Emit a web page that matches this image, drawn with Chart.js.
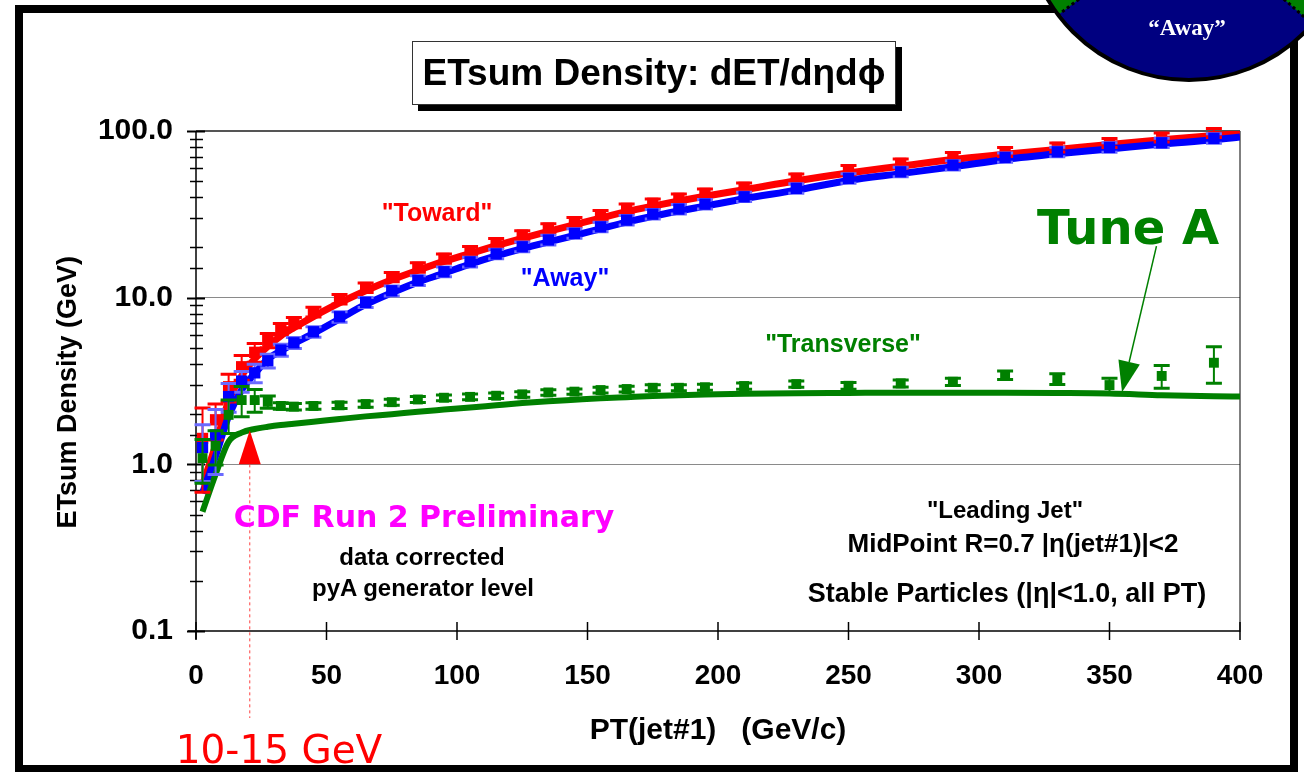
<!DOCTYPE html>
<html><head><meta charset="utf-8">
<script src="https://cdn.jsdelivr.net/npm/chart.js@4/dist/chart.umd.min.js"></script>
<style>
html,body{margin:0;padding:0;background:#fff;}
#wrap{position:relative;width:1304px;height:772px;overflow:hidden;background:#fff;}
canvas{position:absolute;left:0;top:0;}
.t{position:absolute;white-space:nowrap;transform:translate(-50%,-50%);line-height:1;font-family:"Liberation Sans",Arial,sans-serif;font-weight:bold;}
.v{font-family:"DejaVu Sans",Verdana,sans-serif;}
#tbox{position:absolute;left:412px;top:41px;width:484px;height:64px;border:1.5px solid #333;background:#fff;box-shadow:6px 6px 0 #000;box-sizing:border-box;display:flex;align-items:center;justify-content:center;font-family:"Liberation Sans",Arial,sans-serif;font-weight:bold;font-size:37px;color:#000;white-space:nowrap;}
</style></head><body>
<div id="wrap">
<canvas id="c" width="1304" height="772"></canvas>
<div id="tbox">ETsum Density: dET/dηdϕ</div>
<div class="t" style="left:437px;top:212px;font-size:25px;color:#ff0000;">"Toward"</div>
<div class="t" style="left:565px;top:277px;font-size:25px;color:#0000ff;">"Away"</div>
<div class="t" style="left:843px;top:343px;font-size:25px;color:#008000;">"Transverse"</div>
<div class="t v" style="left:1128px;top:227px;font-size:48px;color:#008000;">Tune A</div>
<div class="t v" style="left:424px;top:517px;font-size:30px;color:#ff00ff;">CDF Run 2 Preliminary</div>
<div class="t" style="left:422px;top:557px;font-size:24px;color:#000;">data corrected</div>
<div class="t" style="left:423px;top:588px;font-size:24px;color:#000;">pyA generator level</div>
<div class="t" style="left:1005px;top:510px;font-size:24px;color:#000;">"Leading Jet"</div>
<div class="t" style="left:1013px;top:543px;font-size:26px;color:#000;">MidPoint R=0.7 |η(jet#1)|&lt;2</div>
<div class="t" style="left:1007px;top:593px;font-size:27px;color:#000;">Stable Particles (|η|&lt;1.0, all PT)</div>
<div class="t v" style="left:279px;top:749px;font-size:39px;font-weight:normal;color:#ff0000;">10-15 GeV</div>
<div class="t" style="left:1187px;top:27px;font-size:23px;color:#fff;font-family:'Liberation Serif','Times New Roman',serif;">“Away”</div>
</div>
<script>
// ---------------- data ----------------
const ptBins = [2.5,7.5,12.5,17.5,22.5,27.5,32.5,37.5,45,55,65,75,85,95,105,115,125,135,145,155,165,175,185,195,210,230,250,270,290,310,330,350,370,390];
const towardData = [1.43,1.85,2.92,3.85,4.7,5.55,6.5,7.1,8.2,9.8,11.5,13.3,15.2,17.2,19.1,21.3,23.7,26.1,28.5,31.3,34.3,36.8,39.4,42.2,45.9,52,58.3,63.9,70,75,79.7,85,91.5,97.5];
const towardErr  = [0.75,0.45,0.55,0.65,0.6,0.55,0.5,0.5,0.55,0.65,0.75,0.85,1.0,1.1,1.2,1.35,1.5,1.65,1.8,2.0,2.2,2.3,2.5,2.7,2.9,3.3,3.7,4.0,4.4,4.7,5.0,5.3,5.7,6.0];
const awayData   = [1.26,1.5,2.55,3.16,3.54,4.18,4.85,5.36,6.24,7.68,9.37,11.0,12.7,14.3,16.4,18.3,20.2,22.2,24.3,26.6,29.2,31.7,34,36.4,40.3,45.3,52,56.9,62.4,69.4,75,79.7,85,90.3];
const awayErr    = [0.47,0.63,0.5,0.45,0.45,0.4,0.4,0.4,0.45,0.55,0.65,0.75,0.85,0.95,1.1,1.2,1.35,1.5,1.6,1.75,1.9,2.1,2.2,2.4,2.6,3.0,3.4,3.7,4.0,4.5,4.9,5.2,5.5,5.9];
const transData  = [1.09,1.29,1.98,2.43,2.43,2.37,2.24,2.22,2.24,2.26,2.3,2.36,2.45,2.51,2.54,2.58,2.63,2.7,2.73,2.79,2.83,2.88,2.88,2.9,2.95,3.03,2.96,3.06,3.13,3.43,3.25,2.99,3.39,4.07];
const transErr   = [0.32,0.3,0.45,0.5,0.38,0.2,0.1,0.1,0.1,0.1,0.1,0.1,0.1,0.1,0.1,0.1,0.1,0.1,0.1,0.11,0.11,0.12,0.12,0.12,0.13,0.13,0.14,0.15,0.16,0.2,0.24,0.3,0.53,1.0];

const tunePT     = [2.5,7.5,12.5,17.5,22.5,27.5,32.5,37.5,45,55,65,75,85,95,105,115,125,135,145,155,165,175,185,195,210,230,250,270,290,310,330,350,370,390,400];
const towardTune = [0.75,1.3,2.4,3.4,4.3,5.1,5.9,6.6,7.7,9.3,11.0,12.8,14.6,16.5,18.4,20.5,22.7,25.0,27.4,30.0,32.8,35.4,38.0,40.6,44.4,50.3,56,61.5,67.5,72.5,77.5,83,88.5,94,96.5];
const awayTune   = [0.67,1.12,1.95,2.8,3.5,4.28,4.8,5.3,6.1,7.45,9.1,10.7,12.4,14.0,15.9,17.8,19.7,21.6,23.6,25.9,28.4,30.8,33.1,35.4,39.2,44.2,50.5,55.5,61,67.5,73,78,83.5,88.5,92];
const transTune  = [0.52,0.87,1.37,1.55,1.63,1.68,1.72,1.75,1.8,1.87,1.94,2.0,2.07,2.13,2.19,2.26,2.33,2.39,2.44,2.49,2.53,2.57,2.6,2.62,2.65,2.67,2.68,2.69,2.69,2.69,2.68,2.66,2.6,2.56,2.55];

const xTickStep = 50;
const yTickValues = [0.1, 1, 10, 100];
const yTickLabels = ['0.1', '1.0', '10.0', '100.0'];

// annotation anchors (data units)
const markPT = 20.6, markBase = 1.0, markApex = 1.6;
const arrowFrom = {pt: 368, y: 20.4}, arrowTo = {pt: 354.8, y: 2.71};

// ---------------- helpers ----------------
const FONT = '"Liberation Sans", Arial, sans-serif';
const pts = (xs, ys) => xs.map((x, i) => ({x, y: ys[i]}));
const isMajor = v => yTickValues.some(t => Math.abs(v - t) < t * 1e-6);

const errPlugin = {
  id: 'errbars',
  beforeDatasetDraw(chart, args) {
    const ds = chart.data.datasets[args.index];
    if (!ds.err) return;
    const {ctx} = chart, xs = chart.scales.x, ys = chart.scales.y;
    ctx.save();
    ctx.strokeStyle = ds.errColor; ctx.lineWidth = 2;
    ds.data.forEach((p, i) => {
      const e = ds.err[i];
      const px = xs.getPixelForValue(p.x);
      const top = ys.getPixelForValue(p.y + e);
      const bot = ys.getPixelForValue(Math.max(p.y - e, 0.11));
      ctx.lineWidth = 2;
      ctx.beginPath(); ctx.moveTo(px, top); ctx.lineTo(px, bot); ctx.stroke();
      ctx.lineWidth = 3;
      ctx.beginPath();
      ctx.moveTo(px - 8, top); ctx.lineTo(px + 8, top);
      ctx.moveTo(px - 8, bot); ctx.lineTo(px + 8, bot);
      ctx.stroke();
    });
    ctx.restore();
  }
};

const decor = {
  id: 'decor',
  beforeDraw(chart) {
    const {ctx} = chart;
    ctx.save(); ctx.fillStyle = '#fff'; ctx.fillRect(0, 0, chart.width, chart.height); ctx.restore();
  },
  beforeDatasetsDraw(chart) {
    const {ctx, chartArea: ca, scales: {x, y}} = chart;
    ctx.save();
    ctx.strokeStyle = '#000'; ctx.lineWidth = 1.5;
    const L = (a, b, c, d) => { ctx.beginPath(); ctx.moveTo(a, b); ctx.lineTo(c, d); ctx.stroke(); };
    L(ca.left, ca.top, ca.left, ca.bottom + 8);
    L(ca.left - 8, ca.bottom, ca.right, ca.bottom);
    ctx.lineWidth = 1;
    L(ca.right, ca.top, ca.right, ca.bottom + 1);
    y.ticks.forEach(t => {
      const py = Math.round(y.getPixelForValue(t.value)) + 0.5;
      const m = isMajor(t.value);
      ctx.lineWidth = m ? 2 : 1.5;
      L(ca.left - (m ? 9 : 6), py, ca.left + (m ? 9 : 7), py);
    });
    ctx.lineWidth = 1.5;
    x.ticks.forEach(t => {
      const px = x.getPixelForValue(t.value);
      L(px, ca.bottom - 9, px, ca.bottom + 9);
    });
    ctx.restore();
  },
  afterDraw(chart) {
    const {ctx, chartArea: ca, scales: {x, y}} = chart;
    ctx.save();
    // red marker triangle + dotted line
    const mx = x.getPixelForValue(markPT), mb = y.getPixelForValue(markBase), ma = y.getPixelForValue(markApex);
    ctx.strokeStyle = '#ff4040'; ctx.lineWidth = 1; ctx.setLineDash([3, 3]);
    ctx.beginPath(); ctx.moveTo(mx, mb); ctx.lineTo(mx, ca.bottom + 87); ctx.stroke();
    ctx.setLineDash([]);
    ctx.fillStyle = '#ff0000';
    ctx.beginPath(); ctx.moveTo(mx, ma); ctx.lineTo(mx - 11, mb); ctx.lineTo(mx + 11, mb); ctx.closePath(); ctx.fill();
    // Tune A arrow
    const ax0 = x.getPixelForValue(arrowFrom.pt), ay0 = y.getPixelForValue(arrowFrom.y);
    const ax1 = x.getPixelForValue(arrowTo.pt), ay1 = y.getPixelForValue(arrowTo.y);
    const dx = ax1 - ax0, dy = ay1 - ay0, len = Math.hypot(dx, dy), ux = dx / len, uy = dy / len;
    const hb = {x: ax1 - ux * 31, y: ay1 - uy * 31};
    ctx.strokeStyle = '#008000'; ctx.fillStyle = '#008000'; ctx.lineWidth = 1.5;
    ctx.beginPath(); ctx.moveTo(ax0, ay0); ctx.lineTo(hb.x, hb.y); ctx.stroke();
    ctx.beginPath(); ctx.moveTo(ax1, ay1);
    ctx.lineTo(hb.x - uy * 11, hb.y + ux * 11); ctx.lineTo(hb.x + uy * 11, hb.y - ux * 11); ctx.closePath(); ctx.fill();

    // frame
    ctx.fillStyle = '#000';
    ctx.fillRect(15, 5, 1283, 8);
    ctx.fillRect(15, 5, 8, 767);
    ctx.fillRect(15, 765, 1283, 7);
    ctx.fillRect(1290, 5, 8, 767);
    ctx.fillStyle = '#fff';
    ctx.fillRect(1298, 0, 6, 772);
    // top-right disc
    const cx = 1189, cy = -84, r = 164;
    ctx.beginPath(); ctx.arc(cx, cy, r, 0, Math.PI * 2); ctx.fillStyle = '#008000'; ctx.fill();
    const a1 = Math.atan2(99, 113), a2 = Math.atan2(99, -131);
    ctx.beginPath(); ctx.moveTo(cx, cy); ctx.arc(cx, cy, r, a1, a2); ctx.closePath(); ctx.fillStyle = '#000080'; ctx.fill();
    ctx.strokeStyle = '#000'; ctx.lineWidth = 3; ctx.setLineDash([3, 3]);
    ctx.beginPath(); ctx.moveTo(cx, cy); ctx.lineTo(cx + Math.cos(a1) * r, cy + Math.sin(a1) * r);
    ctx.moveTo(cx, cy); ctx.lineTo(cx + Math.cos(a2) * r, cy + Math.sin(a2) * r); ctx.stroke();
    ctx.setLineDash([]);
    ctx.lineWidth = 4;
    ctx.beginPath(); ctx.arc(cx, cy, r, 0, Math.PI * 2); ctx.stroke();
    ctx.restore();
  }
};

new Chart(document.getElementById('c'), {
  type: 'scatter',
  data: {
    datasets: [
      {label: 'Toward Tune A', data: pts(tunePT, towardTune), showLine: true, borderColor: '#ff0000', borderWidth: 7, pointRadius: 0, cubicInterpolationMode: 'monotone', order: 6},
      {label: 'Away Tune A', data: pts(tunePT, awayTune), showLine: true, borderColor: '#0000ff', borderWidth: 7, pointRadius: 0, cubicInterpolationMode: 'monotone', order: 5},
      {label: 'Transverse Tune A', data: pts(tunePT, transTune), showLine: true, borderColor: '#008000', borderWidth: 6, pointRadius: 0, cubicInterpolationMode: 'monotone', order: 4},
      {label: 'Toward', data: pts(ptBins, towardData), err: towardErr, errColor: '#ff0000', pointStyle: 'rect', pointRadius: 8, backgroundColor: '#ff0000', borderWidth: 0, order: 3},
      {label: 'Away', data: pts(ptBins, awayData), err: awayErr, errColor: '#6a6aff', pointStyle: 'rect', pointRadius: 8, backgroundColor: '#0000ff', borderWidth: 0, order: 2},
      {label: 'Transverse', data: pts(ptBins, transData), err: transErr, errColor: '#008000', pointStyle: 'rect', pointRadius: 7, backgroundColor: '#008000', borderWidth: 0, order: 1}
    ]
  },
  options: {
    responsive: false, animation: false, devicePixelRatio: 1,
    layout: {padding: {left: 0, top: 131, right: 64, bottom: 0}},
    plugins: {legend: {display: false}, tooltip: {enabled: false}},
    scales: {
      x: {
        type: 'linear', min: 0, max: 400,
        afterFit(s) { s.height = 141; },
        ticks: {stepSize: xTickStep, font: {family: FONT, size: 28, weight: 'bold'}, color: '#000', padding: 28, maxRotation: 0, autoSkip: false},
        grid: {display: true, drawOnChartArea: false, drawTicks: false},
        border: {display: false},
        title: {display: true, text: 'PT(jet#1)   (GeV/c)', font: {family: FONT, size: 30, weight: 'bold'}, color: '#000', padding: {top: 0, bottom: 23}}
      },
      y: {
        type: 'logarithmic', min: 0.1, max: 100,
        afterFit(s) { s.width = 196; },
        ticks: {
          autoSkip: false, font: {family: FONT, size: 30, weight: 'bold'}, color: '#000', padding: 23,
          callback: v => { const i = yTickValues.findIndex(t => Math.abs(v - t) < t * 1e-6); return i >= 0 ? yTickLabels[i] : ''; }
        },
        grid: {
          drawTicks: false,
          color: c => isMajor(c.tick.value) && c.tick.value > 0.5 ? (c.tick.value > 50 ? '#555' : '#8a8a8a') : 'rgba(0,0,0,0)',
          lineWidth: c => c.tick.value > 50 ? 2 : 1
        },
        border: {display: false},
        title: {display: true, text: 'ETsum Density (GeV)   ', font: {family: FONT, size: 27, weight: 'bold'}, color: '#000', padding: {top: 52, bottom: 0}}
      }
    }
  },
  plugins: [errPlugin, decor]
});
</script>
</body></html>
